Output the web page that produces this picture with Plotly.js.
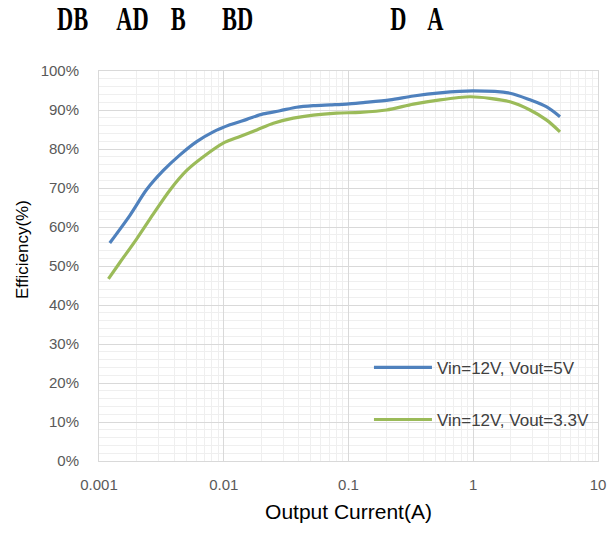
<!DOCTYPE html>
<html>
<head>
<meta charset="utf-8">
<script src="https://cdn.plot.ly/plotly-3.0.1.min.js"></script>
<style>
html,body{margin:0;padding:0;background:#fff;}
#chart{width:609px;height:535px;}
.infolayer .annotation:not(:last-child) .annotation-text{transform-box:fill-box;transform-origin:center;transform:scaleX(0.66);}
</style>
</head>
<body>
<div id="chart"></div>
<script>
// Data
const current5V = [0.00122,0.00177,0.00241,0.00328,0.00446,0.00607,0.00824,0.0112,0.0153,0.0207,0.0282,0.0384,0.0522,0.0711,0.0966,0.1315,0.215,0.331,0.541,1.0,1.97,2.85,3.88,4.96];
const eff5V     = [0.559,0.630,0.696,0.745,0.785,0.819,0.844,0.862,0.876,0.890,0.898,0.907,0.911,0.913,0.915,0.919,0.926,0.936,0.944,0.949,0.943,0.926,0.908,0.883];
const current33V = [0.00119,0.00147,0.002,0.00272,0.00371,0.00505,0.00686,0.0099,0.0135,0.0184,0.025,0.0361,0.0522,0.0804,0.124,0.202,0.331,0.541,0.941,1.36,1.97,2.85,3.88,4.96];
const eff33V     = [0.467,0.509,0.569,0.633,0.695,0.745,0.780,0.815,0.832,0.849,0.866,0.879,0.887,0.892,0.894,0.900,0.915,0.926,0.934,0.930,0.921,0.900,0.874,0.844];
const seriesNames = ["Vin=12V, Vout=5V","Vin=12V, Vout=3.3V"];
const xTickVals = [0.001,0.01,0.1,1,10];
const xTickText = ["0.001","0.01","0.1","1","10"];
const titleParts = ["DB","AD","B","BD","D","A"];
const titleCenters = [72,132,178,237,398,435];
const yTitleText = "Efficiency(%)";
const xTitleText = "Output Current(A)";

const labelFont = {family:"Liberation Sans, Arial, sans-serif", size:15, color:"#595959"};

const traces = [
  {x:current5V, y:eff5V, name:seriesNames[0], type:"scatter", mode:"lines",
   line:{color:"#4F81BD", width:3.2, shape:"spline", smoothing:0.8}, legendgroup:"a"},
  {x:current33V, y:eff33V, name:seriesNames[1], type:"scatter", mode:"lines",
   line:{color:"#9BBB59", width:3.2, shape:"spline", smoothing:0.8}, legendgroup:"b"}
];

const annotations = titleParts.map((t,i)=>({
  text:t, xref:"paper", yref:"paper",
  x:(titleCenters[i]-99)/499, y:1.0, yshift:71-18, xanchor:"center", yanchor:"middle",
  showarrow:false,
  font:{family:"Liberation Serif, Times New Roman, serif", size:34, color:"#000", weight:"bold"}
}));
annotations.push({
  text:yTitleText, xref:"paper", yref:"paper", x:(22-99)/499, y:(461-250)/390,
  xanchor:"center", yanchor:"middle", textangle:-90, showarrow:false,
  font:{family:"Liberation Sans, Arial, sans-serif", size:17, color:"#000"}
});

const layout = {
  width:609, height:535,
  margin:{l:99, r:11, t:71, b:74},
  paper_bgcolor:"#fff", plot_bgcolor:"#fff",
  showlegend:true,
  legend:{x:0.541, y:0.285, xanchor:"left", yanchor:"top", bgcolor:"rgba(0,0,0,0)",
          font:{family:"Liberation Sans, Arial, sans-serif", size:17, color:"#404040"},
          tracegroupgap:27, itemwidth:58, traceorder:"grouped"},
  xaxis:{type:"log", range:[-3,1], tickmode:"array", tickvals:xTickVals, ticktext:xTickText,
         showgrid:true, gridcolor:"#d9d9d9", gridwidth:1,
         minor:{dtick:"D1", showgrid:true, gridcolor:"#efefef", gridwidth:1, ticks:""},
         showline:true, linecolor:"#d9d9d9", linewidth:1, mirror:true,
         ticks:"", ticklabelstandoff:10, tickfont:labelFont, zeroline:false,
         title:{text:xTitleText, standoff:12, font:{family:"Liberation Sans, Arial, sans-serif", size:21, color:"#000"}}},
  yaxis:{range:[0,1], dtick:0.1, tickformat:".0%",
         showgrid:true, gridcolor:"#d9d9d9", gridwidth:1,
         minor:{dtick:0.02, showgrid:true, gridcolor:"#efefef", gridwidth:1, ticks:""},
         showline:true, linecolor:"#d9d9d9", linewidth:1, mirror:true,
         ticks:"", ticklabelstandoff:16, tickfont:labelFont, zeroline:false},
  annotations:annotations
};

Plotly.newPlot("chart", traces, layout, {displayModeBar:false, staticPlot:true});
</script>
</body>
</html>
